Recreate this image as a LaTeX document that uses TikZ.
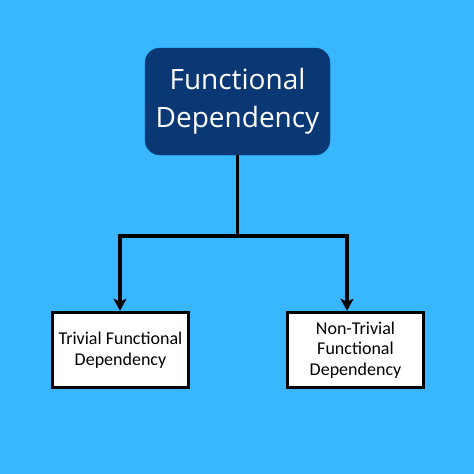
\documentclass[tikz,border=0pt]{standalone}
\usepackage{fontspec}
\setmainfont{Open Sans}
\newfontfamily\boxfont{Carlito}
\usetikzlibrary{arrows.meta}
\definecolor{skyblue}{HTML}{38B6FF}
\definecolor{navy}{HTML}{0A3875}
\tikzset{
  topbox/.style={draw=navy,fill=navy,rounded corners=15pt,inner sep=0pt,
    minimum width=185pt,minimum height=107pt,text=white,align=center,
    font=\fontsize{28}{38}\selectfont},
  leafbox/.style={draw=black,line width=3.5pt,fill=white,inner sep=0pt,
    minimum width=136pt,minimum height=75pt,align=center,
    font=\boxfont\fontsize{18}{20.5}\selectfont},
  link/.style={line width=3.5pt,black},
}
\begin{document}
\begin{tikzpicture}[x=1pt,y=1pt,yscale=-1,xscale=1]
% background
\fill[skyblue] (0,0) rectangle (474,474);
\useasboundingbox (0,0) rectangle (474,474);

% Root Node
\node[topbox] (fd) at (237.5,101.5) {Functional\\Dependency};
% Leaf Nodes
\node[leafbox] (trivial) at (120.5,350) {Trivial Functional\\Dependency};
\node[leafbox] (nontrivial) at (355.5,350) {Non-Trivial\\Functional\\Dependency};

% Junction
\coordinate (jL) at (120,236);
\coordinate (jR) at (347,236);

% Connectors
\draw[link] (fd.south) -- (fd.south |- jL);
\draw[link,line cap=rect] (jL) -- (jR);
\draw[link,-{Stealth[length=12pt,width=13pt,inset=3pt]}] (jL) -- (jL |- trivial.north);
\draw[link,-{Stealth[length=12pt,width=13pt,inset=3pt]}] (jR) -- (jR |- nontrivial.north);

\end{tikzpicture}
\end{document}
